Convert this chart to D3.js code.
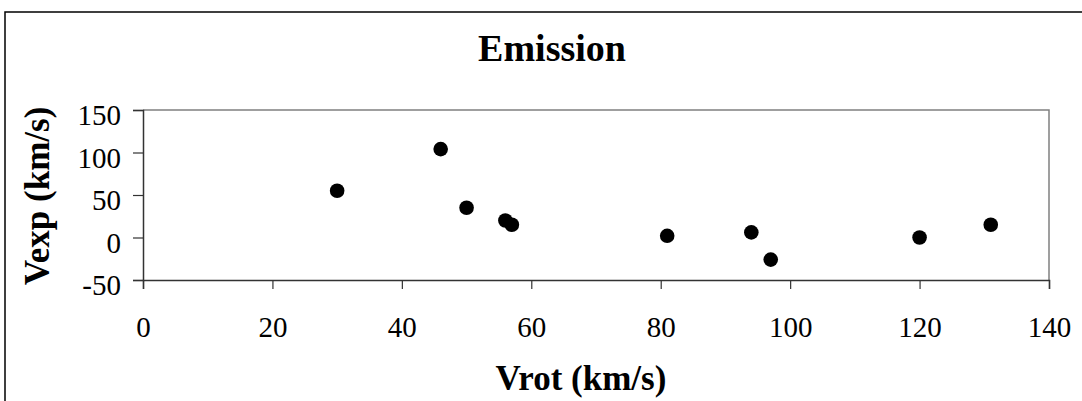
<!DOCTYPE html>
<html>
<head>
<meta charset="utf-8">
<script src="https://cdn.jsdelivr.net/npm/d3@7"></script>
<style>
  html, body { margin: 0; padding: 0; background: #fff; }
  svg { display: block; }
  text { font-family: "Liberation Serif", "Times New Roman", serif; fill: #000; }
</style>
</head>
<body>
<svg id="chart" width="1082" height="401"></svg>
<script>
// Rotation vs. expansion velocity of the emission component
const vrot = [30, 46, 50, 56, 57, 81, 94, 97, 120, 131];
const vexp = [55, 104, 35, 20, 15, 2, 6, -26, 0, 15];

const xTicks = [0, 20, 40, 60, 80, 100, 120, 140];
const yTicks = [-50, 0, 50, 100, 150];

const titleText = "Emission";
const xTitle = "Vrot (km/s)";
const yTitle = "Vexp (km/s)";

const svg = d3.select("#chart");
const W = 1082, H = 401;

const plot = { left: 143, right: 1049, top: 110, bottom: 280 };

const x = d3.scaleLinear().domain([0, 140]).range([plot.left, plot.right]);
const y = d3.scaleLinear().domain([-50, 150]).range([plot.bottom, plot.top]);

// Plain hyphen-minus for negative tick labels
const fmt = d => String(d);

// Chart area frame
svg.append("rect")
  .attr("x", 5).attr("y", 12)
  .attr("width", W + 10).attr("height", H + 10)
  .attr("fill", "#fff").attr("stroke", "#000").attr("stroke-width", 1.5);

// Plot area border (top and right)
svg.append("path")
  .attr("d", `M${plot.left},${plot.top}H${plot.right}V${plot.bottom}`)
  .attr("fill", "none").attr("stroke", "#808080").attr("stroke-width", 1.5);

// Title
svg.append("text")
  .attr("x", 552).attr("y", 61)
  .attr("text-anchor", "middle")
  .attr("font-weight", "bold").attr("font-size", 38)
  .text(titleText);

// X axis
const xAxis = svg.append("g")
  .attr("transform", `translate(0,${plot.bottom})`)
  .call(d3.axisBottom(x).tickValues(xTicks).tickSize(9).tickPadding(27).tickFormat(fmt));
xAxis.select(".domain").attr("stroke", "#333").attr("stroke-width", 1.5);
xAxis.selectAll(".tick line").attr("stroke", "#333").attr("stroke-width", 1.2);
xAxis.selectAll("text").attr("font-size", 29).attr("font-family", "Liberation Serif").attr("fill", "#000");

// Y axis
const yAxis = svg.append("g")
  .attr("transform", `translate(${plot.left},0)`)
  .call(d3.axisLeft(y).tickValues(yTicks).tickSize(10).tickPadding(12).tickFormat(fmt));
yAxis.select(".domain").attr("stroke", "#333").attr("stroke-width", 1.5);
yAxis.selectAll(".tick line").attr("stroke", "#333").attr("stroke-width", 1.2);
yAxis.selectAll("text").attr("font-size", 29).attr("font-family", "Liberation Serif").attr("fill", "#000")
  .attr("dy", "0.5em");

// Axis titles
svg.append("text")
  .attr("x", 581).attr("y", 390)
  .attr("text-anchor", "middle")
  .attr("font-weight", "bold").attr("font-size", 35)
  .text(xTitle);

svg.append("text")
  .attr("transform", `translate(49,196) rotate(-90)`)
  .attr("text-anchor", "middle")
  .attr("font-weight", "bold").attr("font-size", 35)
  .text(yTitle);

// Data points
svg.append("g")
  .selectAll("circle")
  .data(vrot.map((v, i) => ({ vrot: v, vexp: vexp[i] })))
  .join("circle")
  .attr("cx", d => x(d.vrot))
  .attr("cy", d => y(d.vexp))
  .attr("r", 7.3)
  .attr("fill", "#000");
</script>
</body>
</html>
